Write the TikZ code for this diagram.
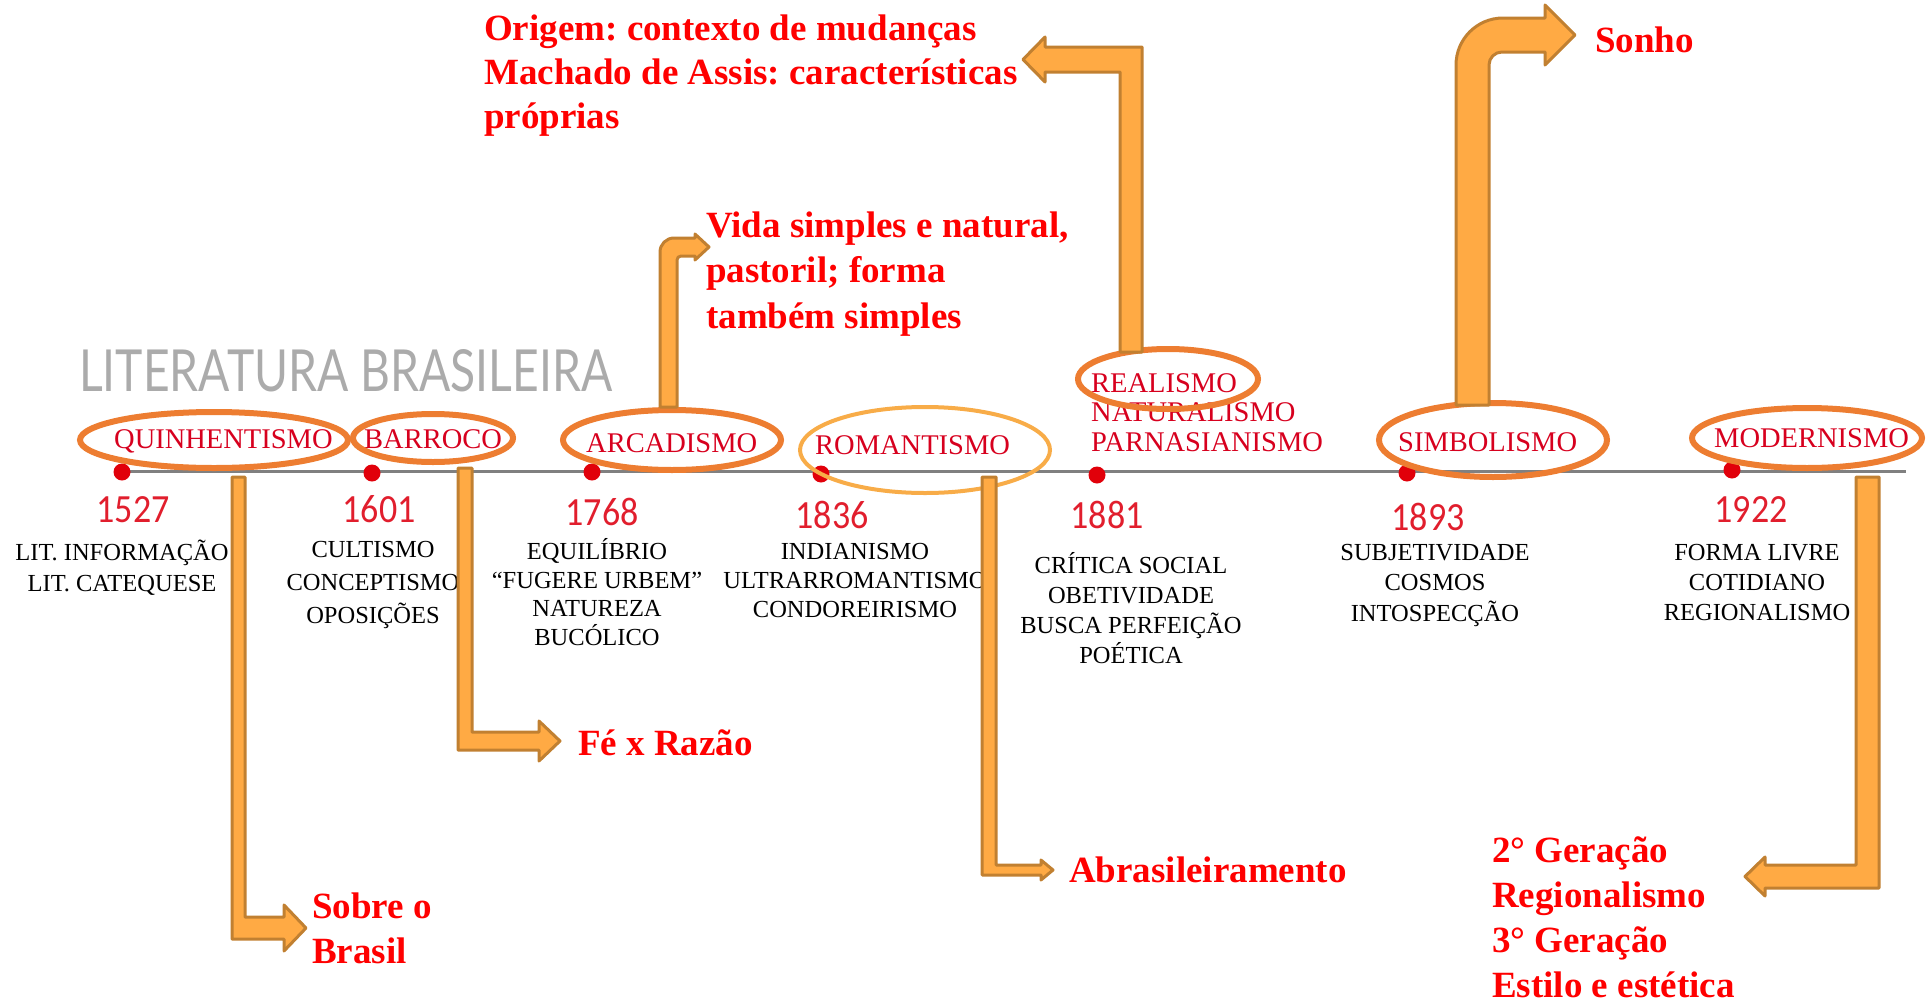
\documentclass[tikz,border=0pt]{standalone}
\usepackage{fontspec}
\setmainfont{Liberation Serif}
\newfontfamily\yearfont{Carlito}
\newfontfamily\titlefont{Lato}
\usetikzlibrary{shapes.geometric}
\frenchspacing

\definecolor{ringorange}{RGB}{237,125,49}
\definecolor{ringlight}{RGB}{248,172,72}
\definecolor{arrowbody}{RGB}{255,170,68}
\definecolor{arrowedge}{RGB}{193,128,49}
\definecolor{notered}{RGB}{255,0,0}
\definecolor{periodred}{RGB}{215,0,30}
\definecolor{yearred}{RGB}{225,30,45}
\definecolor{dotred}{RGB}{225,0,10}
\definecolor{linegray}{RGB}{128,128,128}

\newcommand{\yr}[1]{\scalebox{0.9}[1]{#1}}

\tikzset{
  ring/.style={ellipse, draw=ringorange, line width=6pt, inner sep=0pt},
  dot/.style={circle, fill=dotred, inner sep=0pt, minimum size=17pt},
  period/.style={text=periodred, font=\fontsize{28.5}{29.5}\selectfont, inner sep=0pt, anchor=base west, align=left},
  year/.style={text=yearred, font=\yearfont\fontsize{40}{40}\selectfont, inner sep=0pt, anchor=base},
  detail/.style={font=\fontsize{24.5}{30}\selectfont, align=center, inner sep=0pt, anchor=base},
  note/.style={text=notered, font=\fontsize{37}{45}\selectfont\bfseries, align=left, inner sep=0pt, anchor=base west},
  bent/.style={fill=arrowbody, draw=arrowedge, line width=3pt, line join=round}
}

\begin{document}
\begin{tikzpicture}[x=1pt,y=-1pt]
  \useasboundingbox (0,0) rectangle (1928,1004);

  % title
  \node[anchor=base west, inner sep=0pt, text=black!33] (title) at (79,391)
    {\resizebox{533pt}{42pt}{\titlefont LITERATURA BRASILEIRA}};

  % the time line
  \coordinate (tl-start) at (120,471);
  \coordinate (tl-end) at (1906,471);
  \draw[line width=3pt, linegray] (tl-start) -- (tl-end);

  \node[dot] (d1527) at (122,472) {};
  \node[dot] (d1601) at (372,473) {};
  \node[dot] (d1768) at (592,472) {};
  \node[dot] (d1836) at (821,474) {};
  \node[dot] (d1881) at (1097,475) {};
  \node[dot] (d1893) at (1407,473) {};
  \node[dot] (d1922) at (1732,470) {};

  % years
  \node[year] (y1527) at (133,522) {\yr{1527}};
  \node[year] (y1601) at (379,522) {\yr{1601}};
  \node[year] (y1768) at (602,525) {\yr{1768}};
  \node[year] (y1836) at (832,528) {\yr{1836}};
  \node[year] (y1881) at (1107,528) {\yr{1881}};
  \node[year] (y1893) at (1428,530) {\yr{1893}};
  \node[year] (y1922) at (1751,522) {\yr{1922}};

  % characteristics (placed at the baseline of their last line)
  \node[detail, font=\fontsize{24.5}{31}\selectfont] (c1527) at (122,591) {LIT. INFORMAÇÃO\\LIT. CATEQUESE};
  \node[detail, font=\fontsize{24.5}{33}\selectfont] (c1601) at (373,623) {CULTISMO\\CONCEPTISMO\\OPOSIÇÕES};
  \node[detail, font=\fontsize{24.5}{28.5}\selectfont] (c1768) at (597,645)
    {EQUILÍBRIO\\“FUGERE URBEM”\\NATUREZA\\BUCÓLICO};
  \node[detail, font=\fontsize{24.5}{29}\selectfont] (c1836) at (855,617)
    {INDIANISMO\\ULTRARROMANTISMO\\CONDOREIRISMO};
  \node[detail] (c1881) at (1131,663) {CRÍTICA SOCIAL\\OBETIVIDADE\\BUSCA PERFEIÇÃO\\POÉTICA};
  \node[detail, font=\fontsize{24.5}{30.5}\selectfont] (c1893) at (1435,621) {SUBJETIVIDADE\\COSMOS\\INTOSPECÇÃO};
  \node[detail] (c1922) at (1757,620) {FORMA LIVRE\\COTIDIANO\\REGIONALISMO};

  % periods
  \node[period] (quin) at (114,448) {QUINHENTISMO};
  \node[period] (barr) at (364,448) {BARROCO};
  \node[period] (arca) at (586,452) {ARCADISMO};
  \node[period] (roma) at (815,454) {ROMANTISMO};
  \node[period] (real) at (1091,451) {REALISMO\\NATURALISMO\\PARNASIANISMO};
  \node[period] (simb) at (1398,451) {SIMBOLISMO};
  \node[period] (mode) at (1714,447) {MODERNISMO};

  % rings round the periods
  \node[ring, minimum width=268, minimum height=56] (quin-ring) at (214,440) {};
  \node[ring, minimum width=160, minimum height=48] (barr-ring) at (433,438) {};
  \node[ring, minimum width=218, minimum height=60] (arca-ring) at (672,440) {};
  \node[ring, draw=ringlight, line width=4pt, minimum width=250, minimum height=86] (roma-ring) at (925,450) {};
  \node[ring, minimum width=180, minimum height=60] (real-ring) at (1168,379) {};
  \node[ring, minimum width=228, minimum height=74] (simb-ring) at (1493,440) {};
  \node[ring, minimum width=230, minimum height=60] (mode-ring) at (1807,438) {};

  % bent arrows
  \draw[bent] (232,477) -- (232,939) -- (284,939) -- (284,951) -- (306,928) -- (284,905)
    -- (284,917) -- (245,917) -- (245,477) -- cycle;
  \draw[bent] (458,468) -- (458,750) -- (539,750) -- (539,761) -- (560,741) -- (539,721)
    -- (539,732) -- (472,732) -- (472,468) -- cycle;
  \draw[bent] (660,407) -- (660,252) arc[start angle=180, end angle=270, radius=14]
    -- (695,238) -- (695,234) -- (709,247) -- (695,260) -- (695,256) -- (681,256)
    arc[start angle=270, end angle=180, radius=4] -- (677,407) -- cycle;
  \draw[bent] (982,477) -- (982,875) -- (1041,875) -- (1041,880) -- (1053,870) -- (1041,860)
    -- (1041,865) -- (996,865) -- (996,477) -- cycle;
  \draw[bent] (1142,352) -- (1142,47) -- (1045,47) -- (1045,37) -- (1023,59.5) -- (1045,82)
    -- (1045,72) -- (1120,72) -- (1120,352) -- cycle;
  \draw[bent] (1456,405) -- (1456,65) arc[start angle=180, end angle=270, radius=47]
    -- (1545,18) -- (1545,5) -- (1575,35) -- (1545,65) -- (1545,52) -- (1502,52)
    arc[start angle=270, end angle=180, radius=13] -- (1489,405) -- cycle;
  \draw[bent] (1856,477) -- (1856,865) -- (1765,865) -- (1765,857) -- (1745,876.5) -- (1765,896)
    -- (1765,888) -- (1879,888) -- (1879,477) -- cycle;

  % notes (placed at the baseline of their last line)
  \node[note, font=\fontsize{37}{44}\selectfont\bfseries] (origem) at (484,128)
    {Origem: contexto de mudanças\\Machado de Assis: características\\próprias};
  \node[note, font=\fontsize{37}{45.5}\selectfont\bfseries] (vida) at (706,328)
    {Vida simples e natural,\\pastoril; forma\\também simples};
  \node[note] (sonho) at (1595,52) {Sonho};
  \node[note] (fe) at (578,755) {Fé x Razão};
  \node[note] (sobre) at (312,963) {Sobre o\\Brasil};
  \node[note, font=\fontsize{37}{44.7}\selectfont\bfseries] (abras) at (1069,882) {Abrasileiramento};
  \node[note, font=\fontsize{37}{44.7}\selectfont\bfseries] (geracao) at (1492,997)
    {2° Geração\\Regionalismo\\3° Geração\\Estilo e estética};
\end{tikzpicture}
\end{document}
